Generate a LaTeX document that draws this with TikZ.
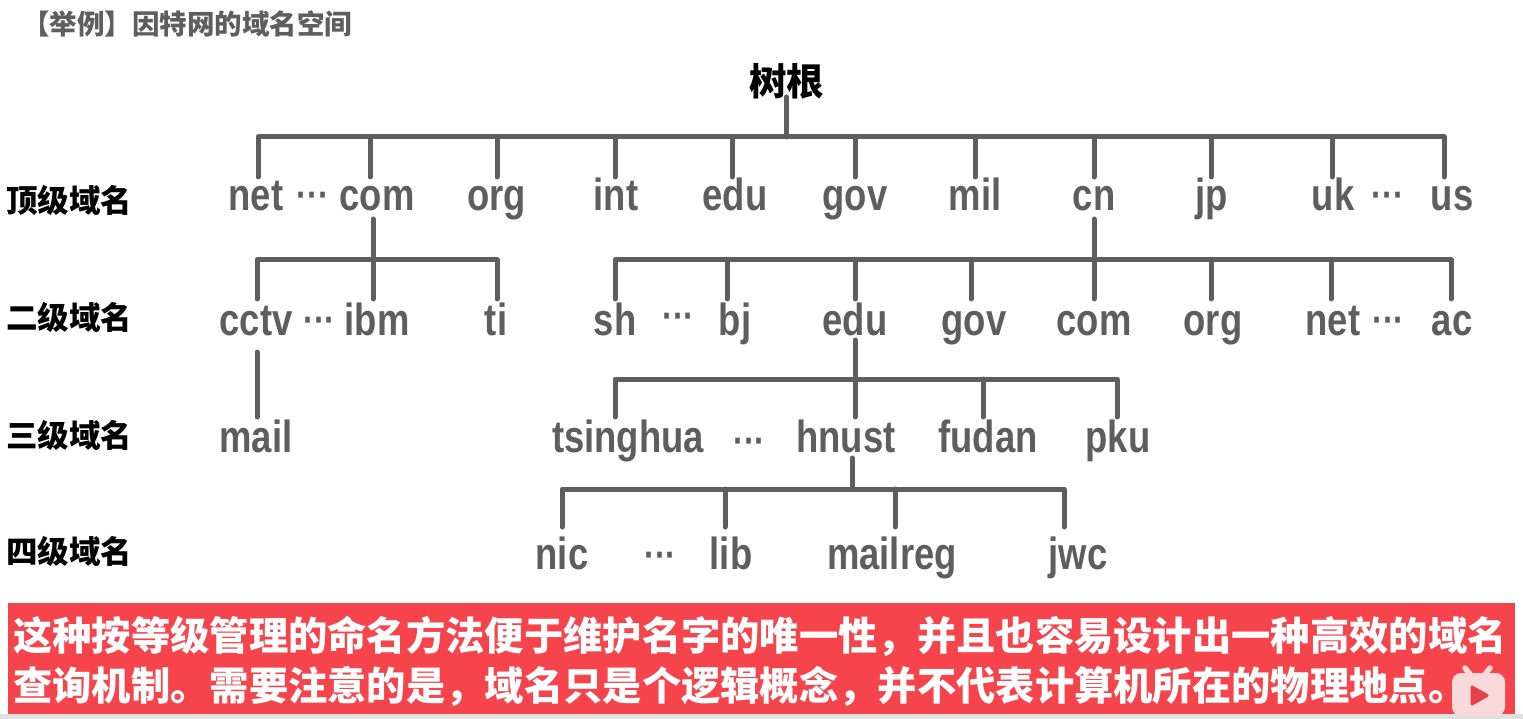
\documentclass[tikz,border=0pt]{standalone}
\usepackage{fontspec}
\newfontfamily\cjkb{Noto Sans CJK SC Bold}
\newfontfamily\cjkB{Noto Sans CJK SC Black}
\newfontfamily\latf[FakeStretch=0.81]{Liberation Sans Bold}
\definecolor{ink}{HTML}{5E5E5E}
\definecolor{banner}{HTML}{F6444C}
\definecolor{logo}{HTML}{F8DADB}
\definecolor{logoplay}{HTML}{E8404A}
\tikzset{
  link/.style={draw=ink,line width=5pt,line cap=round,line join=round},
  dom/.style={anchor=base,inner sep=0pt,text=ink,font=\latf\fontsize{45}{45}\selectfont},
  dots/.style={anchor=base,inner sep=0pt,text=ink,font=\latf\fontsize{40}{40}\selectfont},
  level/.style={anchor=base west,inner sep=0pt,text=black,font=\cjkB\fontsize{31.5}{31.5}\selectfont},
  ban/.style={anchor=base west,inner sep=0pt,text=white,font=\cjkB\fontsize{39.3}{39.3}\selectfont},
}
\begin{document}
\begin{tikzpicture}[x=1pt,y=-1pt]
\useasboundingbox (0,0) rectangle (1523,719);
\fill[white] (0,0) rectangle (1523,719);
\fill[black!12] (0,714) rectangle (1523,719);
% title
\node[anchor=base west,inner sep=0pt,text=ink,font=\cjkB\fontsize{27.5}{27.5}\selectfont] (title) at (22,35) {【举例】因特网的域名空间};
\node[anchor=center,inner sep=0pt,text=black,font=\cjkB\fontsize{37.5}{37.5}\selectfont] (root) at (786.5,81) {树根};
% level labels
\node[level] (l1) at (6,213) {顶级域名};
\node[level] (l2) at (6,330) {二级域名};
\node[level] (l3) at (6,447) {三级域名};
\node[level] (l4) at (6,563) {四级域名};
% row 1
\node[dom] (net) at (256,211) {net};
\node[dots] (d1) at (313,209) {···};
\node[dom] (com) at (377,211) {com};
\node[dom] (org) at (496.5,211) {org};
\node[dom] (int) at (616,211) {int};
\node[dom] (edu) at (735,211) {edu};
\node[dom] (gov) at (855,211) {gov};
\node[dom] (mil) at (975,211) {mil};
\node[dom] (cn) at (1094,211) {cn};
\node[dom] (jp) at (1212,211) {jp};
\node[dom] (uk) at (1333,211) {uk};
\node[dots] (d2) at (1388,209) {···};
\node[dom] (us) at (1452,211) {us};
% row 2
\node[dom] (cctv) at (256,335) {cctv};
\node[dots] (d3) at (319.5,333) {···};
\node[dom] (ibm) at (377,335) {ibm};
\node[dom] (ti) at (496,335) {ti};
\node[dom] (sh) at (615,335) {sh};
\node[dots] (d4) at (678.5,329) {···};
\node[dom] (bj) at (735,335) {bj};
\node[dom] (edu2) at (855,335) {edu};
\node[dom] (gov2) at (974,335) {gov};
\node[dom] (com2) at (1094,335) {com};
\node[dom] (org2) at (1213,335) {org};
\node[dom] (net2) at (1333,335) {net};
\node[dots] (d5) at (1388.5,333) {···};
\node[dom] (ac) at (1452,335) {ac};
% row 3
\node[dom] (mail) at (256,452) {mail};
\node[dom] (tsinghua) at (628,452) {tsinghua};
\node[dots] (d6) at (749.5,454) {···};
\node[dom] (hnust) at (846,452) {hnust};
\node[dom] (fudan) at (988,452) {fudan};
\node[dom] (pku) at (1118,452) {pku};
% row 4
\node[dom] (nic) at (562,569) {nic};
\node[dots] (d7) at (660.5,568) {···};
\node[dom] (lib) at (731,569) {lib};
\node[dom] (mailreg) at (892,569) {mailreg};
\node[dom] (jwc) at (1078,569) {jwc};
% connector anchors
\coordinate (r0) at (786.5,97);
\coordinate (rb) at (786.5,137);
\foreach \n/\x in {net/258,com/370,org/497,int/615,edu/732,gov/855,mil/975,cn/1094,jp/1211,uk/1332,us/1444}
  \coordinate (t\n) at (\x,177);
\coordinate (s1) at (373,219);
\coordinate (b1) at (373,260);
\foreach \n/\x in {cctv/257,ibm/373,ti/497}
  \coordinate (t\n) at (\x,299);
\coordinate (s2) at (1094,219);
\coordinate (b2) at (1094,260);
\foreach \n/\x in {sh/615,bj/727,edu2/855,gov2/971,com2/1094,org2/1211,net2/1331,ac/1451}
  \coordinate (t\n) at (\x,299);
\coordinate (s3) at (257,352);
\coordinate (tmail) at (257,417);
\coordinate (s4) at (855,340);
\coordinate (b4) at (855,379);
\foreach \n/\x in {tsinghua/615,hnust/855,fudan/983,pku/1117}
  \coordinate (t\n) at (\x,417);
\coordinate (s5) at (852,458);
\coordinate (b5) at (852,489);
\foreach \n/\x in {nic/562,lib/725,mailreg/895,jwc/1064}
  \coordinate (t\n) at (\x,527);
% trees
\draw[link] (r0) -- (rb);
\draw[link] (tnet) -- (tnet |- rb) -- (tus |- rb) -- (tus);
\foreach \n in {com,org,int,edu,gov,mil,cn,jp,uk}
  \draw[link] (t\n |- rb) -- (t\n);
\draw[link] (s1) -- (b1);
\draw[link] (tcctv) -- (tcctv |- b1) -- (tti |- b1) -- (tti);
\draw[link] (tibm |- b1) -- (tibm);
\draw[link] (s2) -- (b2);
\draw[link] (tsh) -- (tsh |- b2) -- (tac |- b2) -- (tac);
\foreach \n in {bj,edu2,gov2,com2,org2,net2}
  \draw[link] (t\n |- b2) -- (t\n);
\draw[link] (s3) -- (tmail);
\draw[link] (s4) -- (b4);
\draw[link] (ttsinghua) -- (ttsinghua |- b4) -- (tpku |- b4) -- (tpku);
\foreach \n in {hnust,fudan}
  \draw[link] (t\n |- b4) -- (t\n);
\draw[link] (s5) -- (b5);
\draw[link] (tnic) -- (tnic |- b5) -- (tjwc |- b5) -- (tjwc);
\foreach \n in {lib,mailreg}
  \draw[link] (t\n |- b5) -- (t\n);
% banner
\fill[banner] (8,603) rectangle (1515,714);
\node[ban] (bl1) at (13,650) {这种按等级管理的命名方法便于维护名字的唯一性，并且也容易设计出一种高效的域名};
\node[ban] (bl2) at (13,700) {查询机制。需要注意的是，域名只是个逻辑概念，并不代表计算机所在的物理地点。};
% logo
\draw[logo,line width=5.5pt,line cap=round] (1473,678) -- (1465,668);
\draw[logo,line width=5.5pt,line cap=round] (1482,678) -- (1490,668);
\fill[logo,rounded corners=9pt] (1452,673) rectangle (1505,716);
\fill[logoplay,draw=logoplay,line width=3pt,line join=round] (1472,687) -- (1472,704) -- (1487,695.5) -- cycle;
\end{tikzpicture}
\end{document}
